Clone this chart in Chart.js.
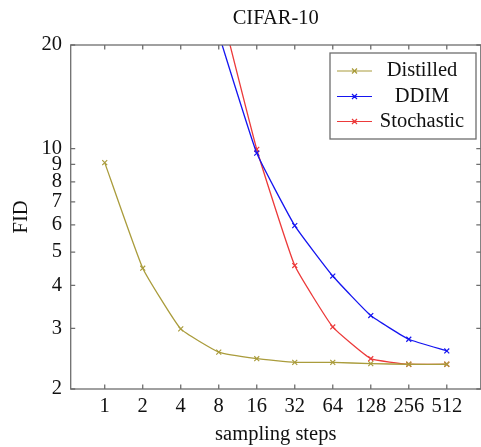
<!DOCTYPE html>
<html>
<head>
<meta charset="utf-8">
<script src="https://cdn.jsdelivr.net/npm/chart.js@4"></script>
<style>
html,body{margin:0;padding:0;background:#fff;overflow:hidden;}
canvas{display:block;}
</style>
</head>
<body>
<canvas id="c" width="486" height="447" style="width:486px;height:447px"></canvas>
<script>
// ---- data ----
const chartTitle = 'CIFAR-10';
const xAxisTitle = 'sampling steps';
const yAxisTitle = 'FID';
const steps = [1, 2, 4, 8, 16, 32, 64, 128, 256, 512];
const distilledSteps = [1, 2, 4, 8, 16, 32, 64, 128, 256, 512];
const distilledFID = [9.1, 4.49, 2.99, 2.56, 2.45, 2.39, 2.39, 2.37, 2.36, 2.36];
const ddimSteps = [8, 16, 32, 64, 128, 256, 512];
const ddimFID = [21.5, 9.7, 5.97, 4.26, 3.27, 2.79, 2.58];
const stochasticSteps = [8, 16, 32, 64, 128, 256, 512];
const stochasticFID = [27, 9.95, 4.57, 3.03, 2.45, 2.36, 2.36];
const yTicks = [2, 3, 4, 5, 6, 7, 8, 9, 10, 20];
const seriesNames = ['Distilled', 'DDIM', 'Stochastic'];
const seriesColors = ['#aa9c3c', '#1515f0', '#ec3a3a'];

const FONT = "'Liberation Serif', 'DejaVu Serif', serif";
const FS = 20.5;
const toPts = (xs, ys) => xs.map((s, i) => ({x: Math.log2(s), y: ys[i]}));

const mkDs = (i, xs, ys) => ({
  label: seriesNames[i],
  data: toPts(xs, ys),
  borderColor: seriesColors[i],
  backgroundColor: seriesColors[i],
  borderWidth: 1.3,
  pointStyle: 'crossRot',
  pointRadius: 3.5,
  pointBorderWidth: 1.2,
  tension: 0.12,
  fill: false
});

const framePlugin = {
  id: 'frame',
  afterDatasetsDraw(chart) {
    const {ctx, chartArea: a} = chart;
    const xs = chart.scales.x, ys = chart.scales.y;
    ctx.save();
    ctx.strokeStyle = '#6e6e6e';
    ctx.lineWidth = 1.3;
    const tl = 4.5;
    ctx.beginPath();
    xs.ticks.forEach(t => {
      const px = xs.getPixelForValue(t.value);
      ctx.moveTo(px, a.bottom); ctx.lineTo(px, a.bottom - tl);
      ctx.moveTo(px, a.top); ctx.lineTo(px, a.top + tl);
    });
    ys.ticks.forEach(t => {
      const py = ys.getPixelForValue(t.value);
      ctx.moveTo(a.left, py); ctx.lineTo(a.left + tl, py);
      ctx.moveTo(a.right, py); ctx.lineTo(a.right - tl, py);
    });
    ctx.stroke();
    ctx.strokeRect(a.left, a.top, a.right - a.left, a.bottom - a.top);

    // title
    ctx.fillStyle = '#111';
    ctx.font = FS + 'px ' + FONT;
    ctx.textAlign = 'center';
    ctx.textBaseline = 'middle';
    ctx.fillText(chartTitle, (a.left + a.right) / 2, 18.5);

    // legend
    const bx = 330, by = 53, bw = 146, bh = 86;
    ctx.fillStyle = '#fff';
    ctx.fillRect(bx, by, bw, bh);
    ctx.strokeStyle = '#6e6e6e';
    ctx.lineWidth = 1.3;
    ctx.strokeRect(bx, by, bw, bh);
    const rowsY = [71, 96.5, 121.5];
    seriesNames.forEach((n, i) => {
      const y = rowsY[i];
      ctx.strokeStyle = seriesColors[i];
      ctx.lineWidth = 1.2;
      ctx.beginPath();
      ctx.moveTo(337, y); ctx.lineTo(372, y);
      const cx = 354.5, r = 2.5;
      ctx.moveTo(cx - r, y - r); ctx.lineTo(cx + r, y + r);
      ctx.moveTo(cx - r, y + r); ctx.lineTo(cx + r, y - r);
      ctx.stroke();
      ctx.fillStyle = '#111';
      ctx.font = FS + 'px ' + FONT;
      ctx.textAlign = 'center';
      ctx.textBaseline = 'middle';
      ctx.fillText(n, 422, y);
    });
    ctx.restore();
  }
};

new Chart(document.getElementById('c'), {
  type: 'line',
  data: {
    datasets: [
      mkDs(0, distilledSteps, distilledFID),
      mkDs(1, ddimSteps, ddimFID),
      mkDs(2, stochasticSteps, stochasticFID)
    ]
  },
  options: {
    responsive: false,
    animation: false,
    devicePixelRatio: 1,
    layout: {padding: {top: 45, right: 1.7, left: 0, bottom: 0}},
    plugins: {legend: {display: false}, title: {display: false}, tooltip: {enabled: false}},
    scales: {
      x: {
        type: 'linear',
        min: -0.895,
        max: 9.895,
        grid: {display: false, drawTicks: false},
        border: {display: false},
        afterFit(s) { s.height = 58; },
        afterBuildTicks(s) { s.ticks = steps.map(v => ({value: Math.log2(v)})); },
        ticks: {
          autoSkip: false, maxRotation: 0, padding: 5,
          color: '#111', font: {family: FONT, size: FS},
          callback: v => String(Math.round(Math.pow(2, v)))
        },
        title: {display: true, text: xAxisTitle, color: '#111', font: {family: FONT, size: FS}, padding: {top: 0, bottom: 0.5}}
      },
      y: {
        type: 'logarithmic',
        min: 2,
        max: 20,
        grid: {display: false, drawTicks: false},
        border: {display: false},
        afterFit(s) { s.width = 70.7; },
        afterBuildTicks(s) { s.ticks = yTicks.map(v => ({value: v})); },
        ticks: {
          autoSkip: false, padding: 8.7,
          color: '#111', font: {family: FONT, size: FS},
          callback: v => String(v)
        },
        title: {display: true, text: yAxisTitle, color: '#111', font: {family: FONT, size: FS}, padding: {top: 9, bottom: 0}}
      }
    }
  },
  plugins: [framePlugin]
});
</script>
</body>
</html>
